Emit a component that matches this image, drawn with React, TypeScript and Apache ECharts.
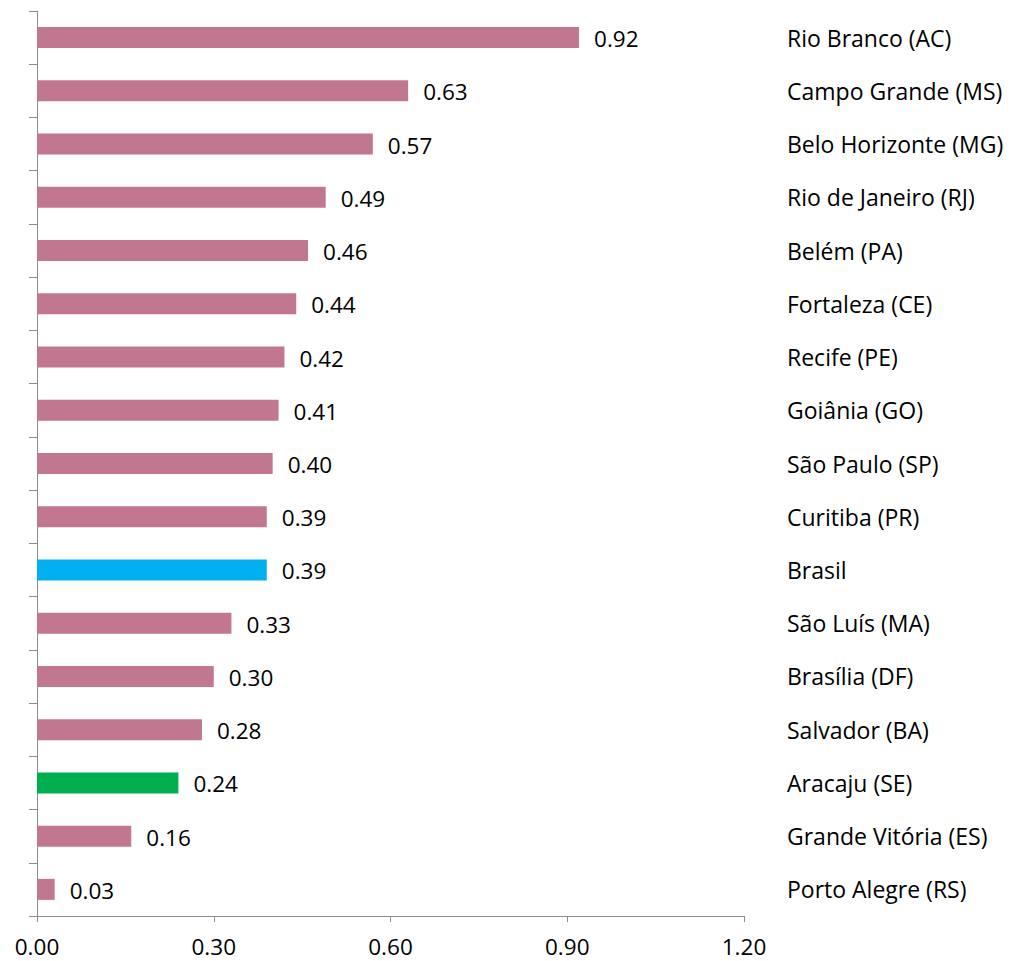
import React, { useEffect, useRef } from "react";
import * as echarts from "echarts";

const categories = [
  "Rio Branco (AC)",
  "Campo Grande (MS)",
  "Belo Horizonte (MG)",
  "Rio de Janeiro (RJ)",
  "Belém (PA)",
  "Fortaleza (CE)",
  "Recife (PE)",
  "Goiânia (GO)",
  "São Paulo (SP)",
  "Curitiba (PR)",
  "Brasil",
  "São Luís (MA)",
  "Brasília (DF)",
  "Salvador (BA)",
  "Aracaju (SE)",
  "Grande Vitória (ES)",
  "Porto Alegre (RS)",
];
const values = [0.92, 0.63, 0.57, 0.49, 0.46, 0.44, 0.42, 0.41, 0.4, 0.39, 0.39, 0.33, 0.3, 0.28, 0.24, 0.16, 0.03];
const highlightColors: Record<string, string> = {
  Brasil: "#00B0F0",
  "Aracaju (SE)": "#00B050",
};
const baseColor = "#C27791";

const FONT = "Open Sans";

export default function App() {
  const ref = useRef<HTMLDivElement>(null);
  useEffect(() => {
    if (!ref.current) return;
    const chart = echarts.init(ref.current, undefined, { renderer: "svg" });
    chart.setOption({
      animation: false,
      grid: { left: 37, right: 268, top: 11, bottom: 45, containLabel: false },
      xAxis: {
        type: "value",
        min: 0,
        max: 1.2,
        interval: 0.3,
        splitLine: { show: false },
        axisLine: { show: true, lineStyle: { color: "#8C8C8C", width: 1 } },
        axisTick: { show: true, length: 6, lineStyle: { color: "#8C8C8C" } },
        axisLabel: {
          formatter: (v: number) => v.toFixed(2),
          color: "#000",
          fontFamily: FONT,
          fontSize: 22.5,
          lineHeight: 20,
          margin: 20,
        },
      },
      yAxis: [
        {
          type: "category",
          data: categories,
          inverse: true,
          position: "left",
          axisLine: { show: true, lineStyle: { color: "#8C8C8C", width: 1 } },
          axisTick: { show: true, length: 8, lineStyle: { color: "#8C8C8C" } },
          axisLabel: { show: false },
        },
        {
          type: "category",
          data: categories,
          inverse: true,
          position: "right",
          axisLine: { show: false },
          axisTick: { show: false },
          axisLabel: {
            show: true,
            align: "left",
            margin: 43,
            color: "#000",
            fontFamily: FONT,
            fontSize: 23,
          },
        },
      ],
      series: [
        {
          type: "bar",
          yAxisIndex: 0,
          barWidth: 21,
          data: values.map((v, i) => ({
            value: v,
            itemStyle: { color: highlightColors[categories[i]] || baseColor },
          })),
          label: {
            show: true,
            position: "right",
            distance: 15,
            offset: [0, 1],
            formatter: (p: any) => Number(p.value).toFixed(2),
            color: "#000",
            fontFamily: FONT,
            fontSize: 22.5,
          },
        },
      ],
    });
    return () => chart.dispose();
  }, []);
  return <div ref={ref} style={{ width: 1012, height: 961, marginLeft: -8, marginTop: -8 }} />;
}
